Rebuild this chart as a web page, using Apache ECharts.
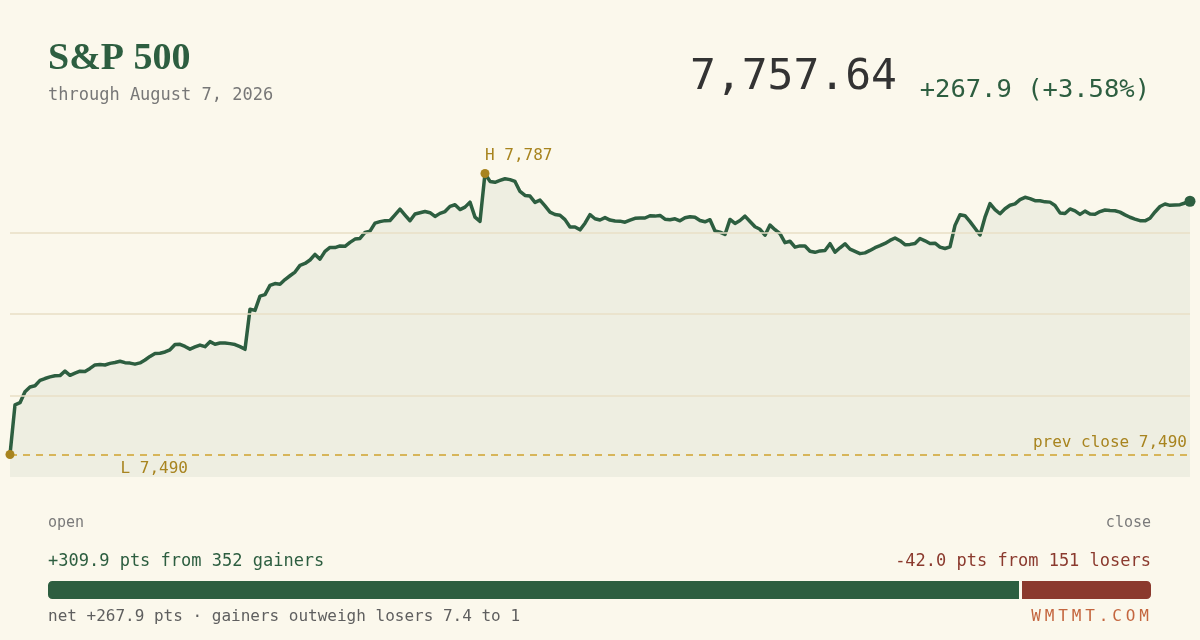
<!DOCTYPE html>
<html>
<head>
<meta charset="utf-8">
<script src="https://cdn.jsdelivr.net/npm/echarts@6/dist/echarts.min.js"></script>
<style>
  html, body { margin: 0; padding: 0; background: #fbf8ec; }
  #chart { width: 1200px; height: 640px; }
</style>
</head>
<body>
<div id="chart"></div>
<script>
// S&P 500 intraday (one point every ~5px)
const spx = [
  7489.7, 7542.2, 7544.5, 7556.1, 7561.1, 7562.4, 7568.1, 7570.1, 7571.8, 7573.0,
  7573.2, 7578.0, 7573.5, 7575.8, 7577.9, 7577.5, 7580.8, 7584.5, 7585.0, 7584.4,
  7586.1, 7587.1, 7588.4, 7586.9, 7586.4, 7585.3, 7586.6, 7589.7, 7593.5, 7596.6,
  7596.9, 7598.2, 7600.5, 7606.0, 7606.3, 7604.0, 7601.2, 7603.5, 7605.5, 7603.8,
  7609.1, 7606.3, 7607.6, 7607.6, 7607.0, 7606.0, 7603.8, 7601.0, 7643.3, 7642.2,
  7657.3, 7658.8, 7668.6, 7670.6, 7669.9, 7674.8, 7678.8, 7682.7, 7689.8, 7691.8,
  7695.5, 7701.4, 7696.4, 7704.6, 7708.8, 7708.6, 7710.4, 7709.9, 7714.1, 7717.6,
  7718.3, 7724.6, 7726.0, 7734.5, 7736.1, 7737.1, 7737.3, 7743.2, 7749.2, 7743.0,
  7737.0, 7744.2, 7745.5, 7746.7, 7745.5, 7741.6, 7744.8, 7746.7, 7752.2, 7753.9,
  7748.8, 7751.4, 7756.7, 7740.8, 7736.3, 7787.0, 7778.6, 7777.7, 7779.6, 7781.4,
  7780.5, 7778.6, 7768.0, 7763.8, 7763.1, 7756.4, 7758.9, 7752.7, 7746.1, 7743.6,
  7742.8, 7738.2, 7730.3, 7730.4, 7727.4, 7734.4, 7743.4, 7739.1, 7737.8, 7740.3,
  7737.7, 7736.7, 7736.6, 7735.5, 7737.7, 7739.6, 7740.0, 7739.9, 7742.3, 7741.9,
  7742.6, 7738.7, 7738.1, 7739.1, 7736.9, 7740.1, 7741.2, 7740.6, 7737.2, 7735.9,
  7738.1, 7726.2, 7725.0, 7722.5, 7738.4, 7734.2, 7737.3, 7741.9, 7736.2, 7730.6,
  7728.0, 7721.7, 7732.4, 7727.5, 7723.3, 7713.8, 7715.3, 7709.1, 7710.4, 7710.2,
  7704.7, 7703.6, 7705.1, 7705.6, 7712.7, 7703.8, 7708.4, 7712.6, 7707.0, 7704.6,
  7702.2, 7703.0, 7705.6, 7708.5, 7710.6, 7713.0, 7716.2, 7718.8, 7715.9, 7711.7,
  7712.0, 7713.0, 7718.2, 7715.8, 7713.0, 7713.3, 7709.1, 7707.6, 7709.3, 7732.1,
  7743.4, 7742.3, 7736.1, 7729.1, 7721.9, 7740.8, 7755.2, 7748.8, 7744.4, 7749.7,
  7753.4, 7754.8, 7759.4, 7761.8, 7760.4, 7758.2, 7758.2, 7757.0, 7756.7, 7753.2,
  7745.3, 7744.6, 7749.5, 7747.4, 7743.7, 7747.2, 7744.2, 7743.8, 7746.7, 7748.4,
  7747.9, 7747.6, 7746.1, 7743.2, 7740.7, 7738.8, 7737.1, 7736.9, 7739.6, 7746.3,
  7752.1, 7754.7, 7753.3, 7753.6, 7754.0, 7755.8, 7757.64
];
const prevClose = 7489.74;
const asOf = 'through August 7, 2026';

// contribution by constituents
const breadthLabels = ['gainers', 'losers'];
const breadthPts = [309.9, 42.0];
const breadthCounts = [352, 151];

const GREEN = '#2d5e40';
const RED = '#8b3a2e';
const GOLD = '#a8841f';
const BG = '#fbf8ec';
const MONO = '"DejaVu Sans Mono", monospace';

const categories = spx.map(function (v, i) { return i; });
const lo = Math.min.apply(null, spx);
const hi = Math.max.apply(null, spx);
const loIdx = spx.indexOf(lo);
const hiIdx = spx.indexOf(hi);
const lastIdx = spx.length - 1;
const close = spx[lastIdx];
const pad = (hi - lo) * 0.08;
const yMin = lo - pad;
const yMax = hi + pad;
const step = (yMax - yMin) / 4;

const net = breadthPts[0] - breadthPts[1];
const pct = net / prevClose * 100;
const ratio = breadthPts[0] / breadthPts[1];

function fmt0(v) { return Math.round(v).toLocaleString('en-US'); }

const chart = echarts.init(document.getElementById('chart'), null, { renderer: 'canvas' });

var brand = 'WMTMT.COM'.split('').map(function (ch, i) {
  return {
    type: 'text', x: 1036 + i * 13.5, y: 617,
    style: { text: ch, font: '16px ' + MONO, fill: '#c4663f', align: 'center', verticalAlign: 'middle' }
  };
});

var gridLine = { color: '#e8dfc6', width: 1.5, type: 'solid' };

var option = {
  backgroundColor: BG,
  animation: false,
  grid: [
    { left: 10, right: 10, top: 151, bottom: 163 },
    { left: 46.5, right: 47.5, top: 579.5, height: 21 }
  ],
  xAxis: [
    { type: 'category', data: categories, boundaryGap: false, show: false },
    { type: 'value', gridIndex: 1, min: 0, max: breadthPts[0] + breadthPts[1], show: false }
  ],
  yAxis: [
    { type: 'value', min: yMin, max: yMax, show: false, splitLine: { show: false } },
    { type: 'category', gridIndex: 1, data: ['breadth'], show: false }
  ],
  graphic: [
    { type: 'text', x: 48, y: 59,
      style: { text: 'S&P 500', font: 'bold 38px "Liberation Serif", serif', fill: GREEN, verticalAlign: 'middle' } },
    { type: 'text', x: 48, y: 96,
      style: { text: asOf, font: '17px ' + MONO, fill: '#777', verticalAlign: 'middle' } },
    { type: 'text', x: 897, y: 78,
      style: { text: close.toLocaleString('en-US', { minimumFractionDigits: 2 }), font: '43px ' + MONO,
               fill: '#333', align: 'right', verticalAlign: 'middle' } },
    { type: 'text', x: 1150, y: 90,
      style: { text: '+' + net.toFixed(1) + ' (+' + pct.toFixed(2) + '%)', font: '25.5px ' + MONO,
               fill: GREEN, align: 'right', verticalAlign: 'middle' } },
    { type: 'text', x: 48, y: 523,
      style: { text: 'open', font: '15px ' + MONO, fill: '#7a7a7a', verticalAlign: 'middle' } },
    { type: 'text', x: 1151, y: 523,
      style: { text: 'close', font: '15px ' + MONO, fill: '#7a7a7a', align: 'right', verticalAlign: 'middle' } },
    { type: 'text', x: 48, y: 562,
      style: { text: '+' + breadthPts[0].toFixed(1) + ' pts from ' + breadthCounts[0] + ' ' + breadthLabels[0],
               font: '17px ' + MONO, fill: GREEN, verticalAlign: 'middle' } },
    { type: 'text', x: 1151, y: 562,
      style: { text: '-' + breadthPts[1].toFixed(1) + ' pts from ' + breadthCounts[1] + ' ' + breadthLabels[1],
               font: '17px ' + MONO, fill: RED, align: 'right', verticalAlign: 'middle' } },
    { type: 'text', x: 48, y: 617,
      style: { text: 'net +' + net.toFixed(1) + ' pts \u00b7 gainers outweigh losers ' + ratio.toFixed(1) + ' to 1',
               font: '16px ' + MONO, fill: '#5f5f5f', verticalAlign: 'middle' } }
  ].concat(brand),
  series: [
    {
      // gridlines + prev close, kept under the price line
      name: 'guides',
      type: 'line',
      data: [],
      z: 1,
      silent: true,
      markLine: {
        symbol: 'none',
        silent: true,
        data: [
          { yAxis: yMin + step, lineStyle: gridLine, label: { show: false } },
          { yAxis: yMin + step * 2, lineStyle: gridLine, label: { show: false } },
          { yAxis: yMin + step * 3, lineStyle: gridLine, label: { show: false } },
          { yAxis: prevClose,
            lineStyle: { color: '#cfa32e', width: 1.5, type: [7, 6] },
            label: { show: true, position: 'insideEndTop', formatter: 'prev close ' + fmt0(prevClose),
                     color: GOLD, fontFamily: MONO, fontSize: 16, distance: [3, 4] } }
        ]
      }
    },
    {
      name: 'S&P 500',
      type: 'line',
      data: spx,
      z: 3,
      symbol: 'none',
      lineStyle: { color: GREEN, width: 3.5, join: 'round' },
      areaStyle: { color: 'rgba(45,94,64,0.09)' },
      markPoint: {
        silent: true,
        data: [
          { coord: [loIdx, lo], symbol: 'circle', symbolSize: 9, itemStyle: { color: GOLD },
            label: { show: true, formatter: 'L ' + fmt0(lo), position: 'right', offset: [101, 14],
                     color: GOLD, fontFamily: MONO, fontSize: 16 } },
          { coord: [hiIdx, hi], symbol: 'circle', symbolSize: 9, itemStyle: { color: GOLD },
            label: { show: true, formatter: 'H ' + fmt0(hi), position: 'top', align: 'left', distance: 5,
                     color: GOLD, fontFamily: MONO, fontSize: 16 } },
          { coord: [lastIdx, close], symbol: 'circle', symbolSize: 11, itemStyle: { color: GREEN },
            label: { show: false } }
        ]
      }
    },
    {
      name: breadthLabels[0],
      type: 'bar',
      xAxisIndex: 1, yAxisIndex: 1,
      stack: 'breadth',
      barWidth: 21,
      data: [breadthPts[0]],
      itemStyle: { color: GREEN, borderColor: BG, borderWidth: 1.5, borderRadius: [5, 0, 0, 5] }
    },
    {
      name: breadthLabels[1],
      type: 'bar',
      xAxisIndex: 1, yAxisIndex: 1,
      stack: 'breadth',
      barWidth: 21,
      data: [breadthPts[1]],
      itemStyle: { color: RED, borderColor: BG, borderWidth: 1.5, borderRadius: [0, 5, 5, 0] }
    }
  ]
};

chart.setOption(option);
</script>
</body>
</html>
